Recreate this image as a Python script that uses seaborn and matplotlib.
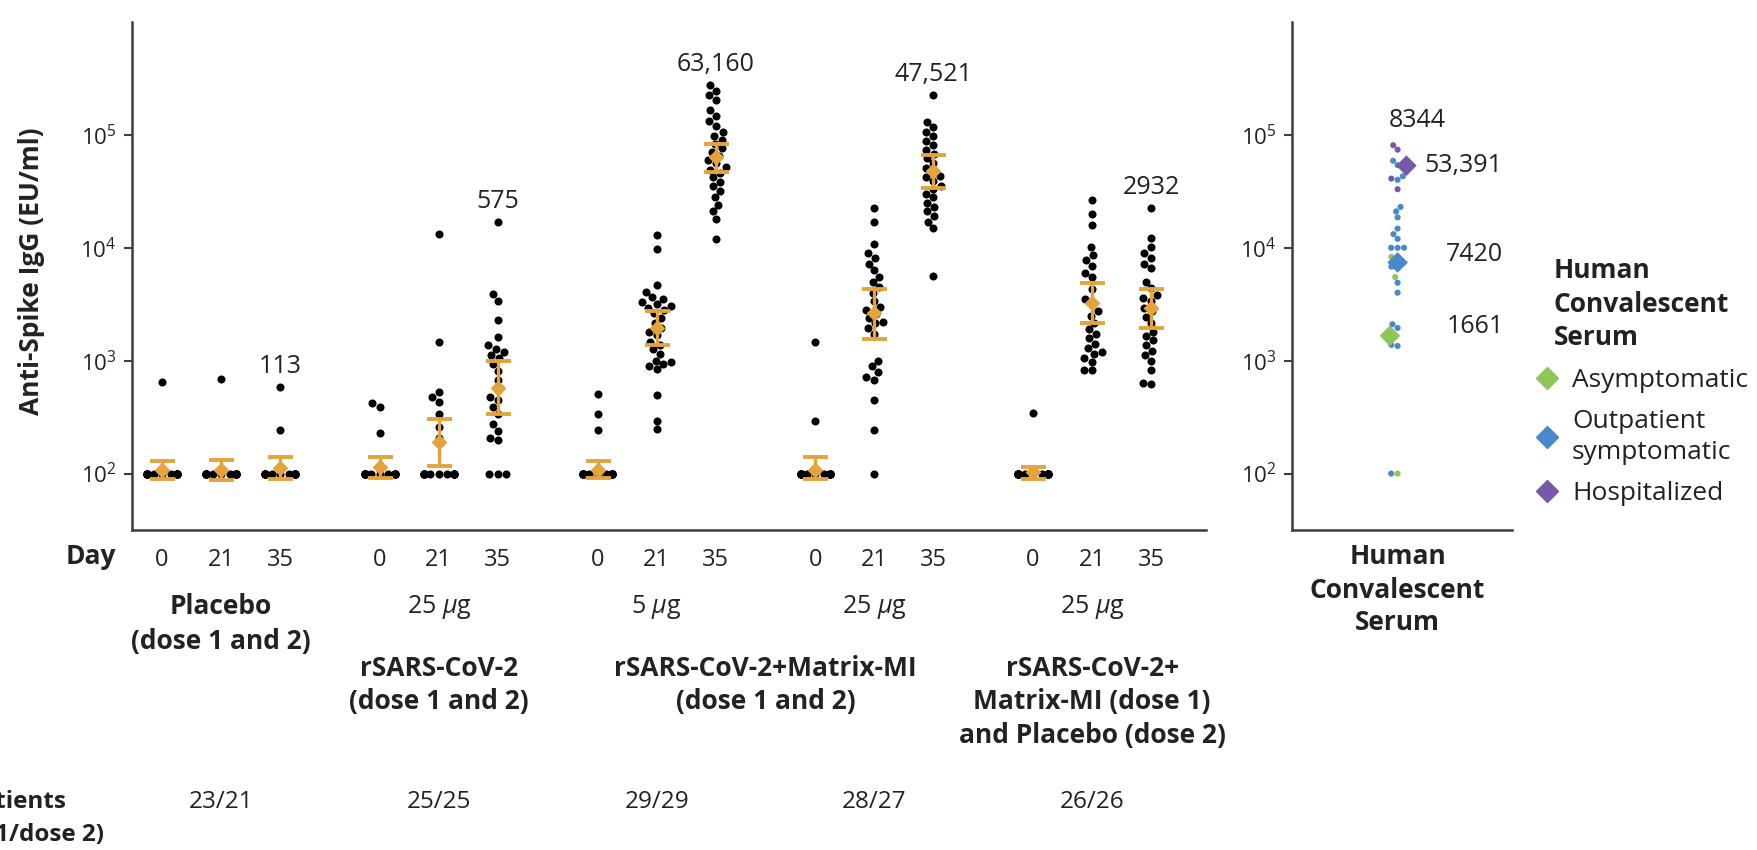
import matplotlib.pyplot as plt
import matplotlib.transforms as mtransforms
from matplotlib.lines import Line2D
from matplotlib.ticker import FixedLocator, LogFormatterMathtext, NullLocator
import numpy as np
import pandas as pd
import seaborn as sns

sns.set_theme(style="ticks")
plt.rcParams["font.family"] = ["Open Sans", "DejaVu Sans"]
plt.rcParams["mathtext.fontset"] = "custom"
plt.rcParams["mathtext.rm"] = "Open Sans"
plt.rcParams["mathtext.it"] = "Open Sans:italic"
plt.rcParams["mathtext.bf"] = "Open Sans:bold"

INK = "#222222"
AXIS = "#3c3c3c"
ORANGE = "#e4a33c"
FS = 17      # numbers
FW = 19      # words

# %% data, anti-spike IgG in EU/ml
days = ["0", "21", "35"]
doses = [None, "25 $\\mu$g", "5 $\\mu$g", "25 $\\mu$g", "25 $\\mu$g"]
patients = ["23/21", "25/25", "29/29", "28/27", "26/26"]

placebo_d0 = [645] + [100] * 22
placebo_d21 = [694] + [100] * 22
placebo_d35 = [584, 243] + [100] * 19

rs25_d0 = [418, 390, 231] + [100] * 22
rs25_d21 = [13200, 1470, 523, 480, 433, 340, 257, 208] + [100] * 17
rs25_d35 = [16800, 3900, 3400, 2300, 1630, 1370, 1280, 1200, 1120, 1050, 930, 810,
            680, 550, 480, 450, 390, 340, 276, 240, 208, 200, 100, 100, 100]

m5_d0 = [505, 340, 243] + [100] * 26
m5_d21 = [12900, 9800, 4650, 4050, 3640, 3550, 3300, 3160, 3040, 2940, 2800, 2650,
          2400, 2150, 1940, 1780, 1690, 1470, 1370, 1260, 1150, 1000, 970, 930, 890,
          840, 500, 295, 247]
m5_d35 = [275000, 245000, 224000, 204000, 166000, 148000, 132000, 120000, 107000,
          98000, 91000, 83000, 76000, 71000, 65000, 60000, 56000, 52000, 49000, 46000,
          42000, 38000, 35000, 32000, 28000, 24000, 21000, 18000, 12000]

m25_d0 = [1470, 290] + [100] * 26
m25_d21 = [22400, 17000, 10700, 8900, 8100, 7200, 6300, 5500, 5000, 4500, 4000, 3400,
           3000, 2800, 2600, 2400, 2200, 2150, 1950, 1740, 1000, 890, 790, 720, 680,
           450, 245, 100]
m25_d35 = [224000, 129000, 117000, 107000, 98000, 89000, 81000, 74000, 68000, 62000,
           56000, 51000, 47000, 43000, 42000, 39000, 35000, 33000, 30000, 28000, 25000,
           23000, 21000, 19000, 17000, 15000, 5600]

m25p_d0 = [345] + [100] * 25
m25p_d21 = [26300, 20000, 15800, 10200, 8700, 7800, 6900, 6000, 5500, 4300, 3500, 3200,
            2750, 2500, 2150, 1900, 1740, 1580, 1410, 1290, 1200, 1150, 1050, 980, 830, 830]
m25p_d35 = [22400, 12300, 10200, 8900, 8100, 7200, 6600, 5000, 4400, 3800, 3600, 3400,
            2950, 2750, 2450, 2150, 1800, 1660, 1510, 1380, 1230, 1120, 1000, 830, 630, 620]

columns = [placebo_d0, placebo_d21, placebo_d35, rs25_d0, rs25_d21, rs25_d35,
           m5_d0, m5_d21, m5_d35, m25_d0, m25_d21, m25_d35, m25p_d0, m25p_d21, m25p_d35]

# geometric mean titers and 95% CI (orange bars)
gmt = [108, 108, 113, 115, 190, 575, 108, 1950, 63160, 108, 2630, 47521, 103, 3250, 2932]
ci_lo = [90, 88, 90, 92, 116, 335, 92, 1380, 47000, 90, 1570, 34000, 90, 2170, 1960]
ci_hi = [128, 133, 139, 139, 305, 1000, 130, 2770, 83000, 139, 4350, 66500, 115, 4900, 4350]
gmt_labels = {2: "113", 5: "575", 8: "63,160", 11: "47,521", 14: "2932"}

# human convalescent serum
conv_asym = [8300, 5500, 100]
conv_outpt = [59000, 54000, 43000, 40000, 23000, 21000, 18600, 14800, 13200, 12000,
              10000, 10000, 10000, 8100, 7200, 6800, 6600, 4900, 4000, 2100, 1950,
              1380, 1350, 100]
conv_hosp = [81000, 74000, 41000, 33000]
conv_names = ["Asymptomatic", "Outpatient\nsymptomatic", "Hospitalized"]
conv_colors = ["#8dc556", "#4a88cc", "#7757a8"]
conv_gmt = [1661, 7420, 53391]
conv_overall = "8344"

# %% tidy frames
# x units: 1 unit ~ 37 px, so a swarm (0.8 units wide) stays under the orange caps
DAY_STEP = 1.6
GROUP_STEP = 3.69 * DAY_STEP
col_pos = [(i // 3) * GROUP_STEP + (i % 3) * DAY_STEP for i in range(len(columns))]
df = pd.DataFrame(
    [(i, p, v) for i, (p, vals) in enumerate(zip(col_pos, columns)) for v in vals],
    columns=["col", "pos", "value"],
)
conv_df = pd.DataFrame(
    [(0, v, n) for vals, n in zip([conv_asym, conv_outpt, conv_hosp], conv_names) for v in vals],
    columns=["pos", "value", "group"],
)

# %% figure
W, H = 1757, 850
fig = plt.figure(figsize=(W / 100, H / 100), dpi=100)
ax = fig.add_axes([132 / W, 1 - 530 / H, (1206 - 132) / W, (530 - 22) / H])
ax2 = fig.add_axes([1292 / W, 1 - 530 / H, 220 / W, (530 - 22) / H])
XLIM = {ax: (-0.51 * DAY_STEP, 17.69 * DAY_STEP), ax2: (-0.96, 1.04)}


def fy(px):
    return 1 - px / H


for a in (ax, ax2):
    a.set_yscale("log")
    a.set_ylim(10**1.5, 10**6)
    a.set_xlim(*XLIM[a])

# one swarm per column so each keeps a narrow width
for i in range(len(columns)):
    sns.swarmplot(data=df[df["col"] == i], x="pos", y="value", native_scale=True,
                  log_scale=(False, True), color="black", size=5.8, linewidth=0,
                  warn_thresh=1.0, ax=ax, zorder=2)

gmt_arr = np.array(gmt)
ax.errorbar(col_pos, gmt_arr, yerr=[gmt_arr - np.array(ci_lo), np.array(ci_hi) - gmt_arr],
            fmt="D", color=ORANGE, mec=ORANGE, ms=7.5, elinewidth=2.4, capsize=9,
            capthick=2.8, zorder=5)

for i, txt in gmt_labels.items():
    ax.annotate(txt, xy=(col_pos[i], max(columns[i])), xytext=(0, 15),
                textcoords="offset points", ha="center", va="center",
                fontsize=FS + 1, color=INK)

sns.swarmplot(data=conv_df, x="pos", y="value", hue="group", hue_order=conv_names,
              palette=conv_colors, native_scale=True, log_scale=(False, True),
              size=4.4, linewidth=0, legend=False, ax=ax2, zorder=2)
ax2.scatter([-0.07, 0.0, 0.08], conv_gmt, marker="D", s=110, c=conv_colors,
            linewidths=0, zorder=5)

all_conv = conv_asym + conv_outpt + conv_hosp
ax2.annotate(conv_overall, xy=(0, max(all_conv)), xytext=(14, 18),
             textcoords="offset points", ha="center", va="center", fontsize=FS + 1, color=INK)
for x0, val, dx, dy in zip([-0.07, 0.0, 0.08], conv_gmt, [41, 35, 13], [7, 6, 0]):
    ax2.annotate(f"{val:,}" if val > 9999 else str(val), xy=(x0, val), xytext=(dx, dy),
                 textcoords="offset points", ha="left", va="center",
                 fontsize=FS + 1, color=INK)

for a in (ax, ax2):
    a.set_xlim(*XLIM[a])
    a.set_ylim(10**1.5, 10**6)
    a.set_xlabel("")
    a.set_ylabel("")
    a.yaxis.set_major_locator(FixedLocator([1e2, 1e3, 1e4, 1e5]))
    a.yaxis.set_minor_locator(NullLocator())
    a.yaxis.set_major_formatter(LogFormatterMathtext())
    a.tick_params(axis="y", length=6, width=1.5, color=AXIS, labelsize=16,
                  labelcolor=INK, direction="out", pad=5)
    sns.despine(ax=a)
    for s in ("left", "bottom"):
        a.spines[s].set_color(AXIS)
        a.spines[s].set_linewidth(1.8)

ax.set_xticks(col_pos, days * 5)
ax.tick_params(axis="x", length=0, pad=13, labelsize=FS, labelcolor=INK)
ax2.set_xticks([])

# legend
handles = [Line2D([], [], marker="D", linestyle="none", color=c, markersize=11)
           for c in conv_colors]
leg = ax2.legend(handles, conv_names, title="Human\nConvalescent\nSerum",
                 loc="upper left", bbox_to_anchor=(1535 / W, fy(257)),
                 bbox_transform=fig.transFigure, frameon=False, fontsize=FW,
                 title_fontproperties={"weight": "bold", "size": FW},
                 handlelength=0.9, handletextpad=0.5, labelspacing=0.62,
                 borderpad=0, borderaxespad=0)
for t in leg.get_texts():
    t.set_color(INK)
    t.set_linespacing(1.3)
leg.get_title().set_color(INK)
leg.get_title().set_linespacing(1.32)

# text below the axes
trans = mtransforms.blended_transform_factory(ax.transData, fig.transFigure)
trans2 = mtransforms.blended_transform_factory(ax2.transData, fig.transFigure)
centers = [g * GROUP_STEP + DAY_STEP for g in range(5)]


def lines(x, y0, items, tr, bold=True, step=34, size=FW):
    for k, s in enumerate(items):
        fig.text(x, fy(y0 + k * step), s, transform=tr, ha="center", va="center",
                 fontsize=size, fontweight="bold" if bold else "normal", color=INK)


for c, d in zip(centers, doses):
    if d:
        lines(c, 607, [d], trans, bold=False, size=18)
lines(centers[0], 607, ["Placebo", "(dose 1 and 2)"], trans)
lines(centers[1], 668, ["rSARS-CoV-2", "(dose 1 and 2)"], trans)
lines((centers[2] + centers[3]) / 2, 668, ["rSARS-CoV-2+Matrix-MI", "(dose 1 and 2)"], trans)
lines(centers[4], 668, ["rSARS-CoV-2+", "Matrix-MI (dose 1)", "and Placebo (dose 2)"], trans)
for c, n in zip(centers, patients):
    lines(c, 802, [n], trans, bold=False, size=FS + 0.5)
lines(0, 557, ["Human", "Convalescent", "Serum"], trans2, step=33)

fig.text(91 / W, fy(557), "Day", ha="center", va="center", fontsize=FW,
         fontweight="bold", color=INK)
fig.text(32 / W, fy(271), "Anti-Spike IgG (EU/ml)", rotation=90, ha="center",
         va="center", fontsize=FW, fontweight="bold", color=INK)
# the row header runs off the left edge, as in the source figure
fig.text(66 / W, fy(802), "No. of Patients", ha="right", va="center", fontsize=17.5,
         fontweight="bold", color=INK)
fig.text(104 / W, fy(835), "(dose 1/dose 2)", ha="right", va="center", fontsize=17.5,
         fontweight="bold", color=INK)

fig.savefig("out.png", dpi=100, facecolor="white")
